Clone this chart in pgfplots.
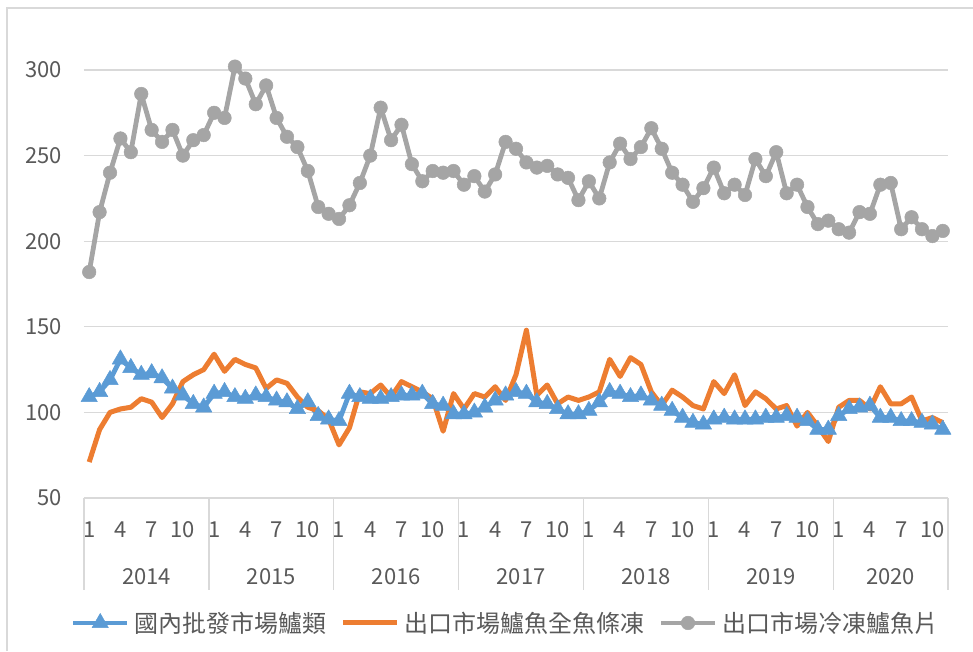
\documentclass[border=0pt]{standalone}
\usepackage{pgfplots}
\usepackage{pgfplotstable}
\pgfplotsset{compat=1.18}
\usepackage{fontspec}
\setmainfont{Noto Sans CJK TC}
\definecolor{cblue}{HTML}{5B9BD5}
\definecolor{corange}{HTML}{ED7D31}
\definecolor{cgray}{HTML}{A5A5A5}
\definecolor{gridc}{HTML}{D9D9D9}
\definecolor{txt}{HTML}{595959}

\pgfplotstableread{
i blue orange gray
0 109 71 182
1 112 90 217
2 119 100 240
3 131 102 260
4 126 103 252
5 122 108 286
6 123 106 265
7 120 97 258
8 114 105 265
9 110 118 250
10 105 122 259
11 103 125 262
12 111 134 275
13 112 124 272
14 109 131 302
15 108 128 295
16 110 126 280
17 109 114 291
18 107 119 272
19 106 117 261
20 102 109 255
21 106 103 241
22 98 101 220
23 96 96 216
24 95 81 213
25 111 91 221
26 109 112 234
27 108 111 250
28 108 116 278
29 109 109 259
30 110 118 268
31 110 115 245
32 111 112 235
33 105 108 241
34 104 89 240
35 99 111 241
36 99 102 233
37 100 111 238
38 103 109 229
39 107 115 239
40 110 107 258
41 112 122 254
42 111 148 246
43 106 110 243
44 105 116 244
45 102 105 239
46 99 109 237
47 99 107 224
48 101 109 235
49 106 112 225
50 112 131 246
51 111 121 257
52 109 132 248
53 110 128 255
54 107 112 266
55 104 104 254
56 101 113 240
57 97 109 233
58 94 104 223
59 93 102 231
60 96 118 243
61 97 111 228
62 96 122 233
63 96 104 227
64 96 112 248
65 97 108 238
66 97 102 252
67 98 104 228
68 97 92 233
69 95 100 220
70 90 92 210
71 90 83 212
72 98 103 207
73 102 107 205
74 103 107 217
75 104 102 216
76 97 115 233
77 97 105 234
78 95 105 207
79 95 109 214
80 94 95 207
81 93 97 203
82 90 94 206
}\datatable

\begin{document}
\begin{tikzpicture}
\begin{axis}[
  scale only axis, width=864pt, height=428pt,
  xmin=-0.5, xmax=82.5, ymin=50, ymax=300,
  clip=false,
  axis line style={draw=none},
  tick style={draw=none},
  ymajorgrids,
  major grid style={draw=gridc, line width=1.2pt},
  ytick={50,100,150,200,250,300},
  xtick={0,3,...,81},
  xticklabels={1,4,7,10,1,4,7,10,1,4,7,10,1,4,7,10,1,4,7,10,1,4,7,10,1,4,7,10},
  /pgf/number format/assume math mode=true,
  ticklabel style={font=\fontsize{22}{26}\selectfont, text=txt},
  yticklabel style={anchor=east, inner sep=0pt, xshift=-22pt},
  xticklabel style={anchor=center, inner sep=0pt, yshift=-32pt},
  legend columns=3,
  legend cell align=left,
  legend style={at={(0.488,-0.292)}, anchor=center, draw=none, fill=none,
    font=\fontsize{24}{28}\selectfont, text=txt,
    nodes={inner sep=2pt},
    /tikz/every odd column/.append style={column sep=3pt},
    /tikz/every even column/.append style={column sep=12pt}},
  legend image code/.code={\draw[mark repeat=2,mark phase=2,#1] plot coordinates {(0pt,0pt) (27pt,0pt) (54pt,0pt)};},
]
\addplot[cblue, line width=4.8pt, line join=round, mark=triangle*, mark size=9.5pt, mark options={solid, fill=cblue, draw=cblue, line width=0.5pt}] table[x=i, y=blue] {\datatable};
\addlegendentry{國內批發市場鱸類}
\addplot[corange, line width=5pt, line join=round] table[x=i, y=orange] {\datatable};
\addlegendentry{出口市場鱸魚全魚條凍}
\addplot[cgray, line width=4.8pt, line join=round, mark=*, mark size=6.8pt, mark options={solid, fill=cgray, draw=cgray, line width=0.5pt}] table[x=i, y=gray] {\datatable};
\addlegendentry{出口市場冷凍鱸魚片}

\draw[gridc, line width=1.2pt] (axis cs:-0.5,50) -- (axis cs:82.5,50);
\foreach \s in {-0.5,11.5,23.5,35.5,47.5,59.5,71.5,82.5}{
  \edef\tmp{\noexpand\draw[gridc, line width=1.2pt] (axis cs:\s,50) -- ++(0pt,-92pt);}\tmp
}
\tikzset{yr/.style={font=\fontsize{22}{26}\selectfont, text=txt, inner sep=0pt, anchor=center, yshift=-79pt}}
\node[yr] at (axis cs:5.5,50) {2014};
\node[yr] at (axis cs:17.5,50) {2015};
\node[yr] at (axis cs:29.5,50) {2016};
\node[yr] at (axis cs:41.5,50) {2017};
\node[yr] at (axis cs:53.5,50) {2018};
\node[yr] at (axis cs:65.5,50) {2019};
\node[yr] at (axis cs:77,50) {2020};
\end{axis}
\draw[gridc, line width=1.2pt] (-77pt,-153pt) -- (-77pt,490pt) -- (889pt,490pt);
\pgfresetboundingbox
\useasboundingbox (-84pt,-153pt) rectangle (889pt,498pt);
\end{tikzpicture}
\end{document}
